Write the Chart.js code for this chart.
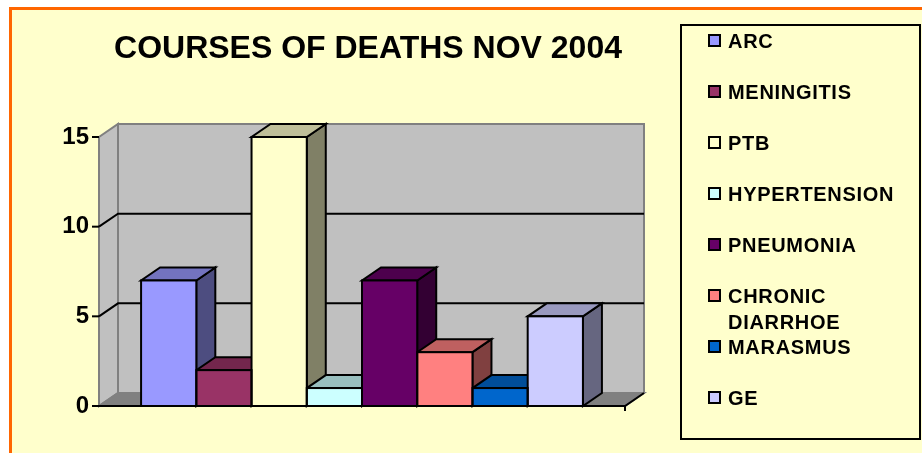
<!DOCTYPE html>
<html>
<head>
<meta charset="utf-8">
<title>Courses of deaths Nov 2004</title>
<script src="https://cdn.jsdelivr.net/npm/chart.js@4.4.1/dist/chart.umd.min.js"></script>
<style>
  html, body { margin: 0; padding: 0; background: #fff; }
  body { width: 922px; height: 453px; position: relative; overflow: hidden;
         font-family: "Liberation Sans", Arial, sans-serif; }
  #frame { position: absolute; left: 9px; top: 7px; width: 940px; height: 470px;
           background: #ffffcc; border-left: 3px solid #ff6600; border-top: 3px solid #ff6600; }
  #chart { position: absolute; left: 0; top: 0; }
  #legend { position: absolute; left: 680px; top: 24px; width: 241px; height: 416px;
            box-sizing: border-box; border: 2px solid #000; }
  .item { position: absolute; left: 26px; width: 205px; }
  .item i { position: absolute; left: 0; top: 6px; width: 13px; height: 13px;
            box-sizing: border-box; border: 2px solid #000; }
  .item span { display: block; margin-left: 20px; width: 185px; line-height: 26px;
               font-size: 20px; font-weight: bold; letter-spacing: 0.7px; color: #000; }
</style>
</head>
<body>
<div id="frame"></div>
<canvas id="chart" width="922" height="453"></canvas>
<div id="legend"></div>
<script>
const causes = ["ARC", "MENINGITIS", "PTB", "HYPERTENSION", "PNEUMONIA", "CHRONIC DIARRHOE", "MARASMUS", "GE"];
const deaths = [7, 2, 15, 1, 7, 3, 1, 5];
const barColors = ["#9999ff", "#993366", "#ffffcc", "#ccffff", "#660066", "#ff8080", "#0066cc", "#ccccff"];
const yTicks = [0, 5, 10, 15];

// depth of the fake 3d
const DX = 19, DY = -13;

function shade(hex, f) {
  const n = parseInt(hex.slice(1), 16);
  const r = Math.round(((n >> 16) & 255) * f);
  const g = Math.round(((n >> 8) & 255) * f);
  const b = Math.round((n & 255) * f);
  return "rgb(" + r + "," + g + "," + b + ")";
}

function poly(ctx, pts, fill, stroke, lw) {
  ctx.beginPath();
  ctx.moveTo(pts[0][0], pts[0][1]);
  for (let k = 1; k < pts.length; k++) ctx.lineTo(pts[k][0], pts[k][1]);
  ctx.closePath();
  if (fill) { ctx.fillStyle = fill; ctx.fill(); }
  if (stroke) { ctx.strokeStyle = stroke; ctx.lineWidth = lw || 2; ctx.stroke(); }
}

function line(ctx, pts, color, lw) {
  ctx.beginPath();
  ctx.moveTo(pts[0][0], pts[0][1]);
  for (let k = 1; k < pts.length; k++) ctx.lineTo(pts[k][0], pts[k][1]);
  ctx.strokeStyle = color; ctx.lineWidth = lw || 2; ctx.stroke();
}

function barBox(chart, i) {
  const p = chart.getDatasetMeta(i).data[0].getProps(["x", "y", "base", "width"], true);
  return { x0: p.x - p.width / 2, x1: p.x + p.width / 2, top: p.y, base: p.base };
}

const box3d = {
  id: "box3d",
  beforeDatasetsDraw(chart) {
    const ctx = chart.ctx, a = chart.chartArea, y = chart.scales.y;
    const L = a.left, R = a.right;
    const T = y.getPixelForValue(yTicks[yTicks.length - 1]), B = y.getPixelForValue(0);
    ctx.save();
    // walls and floor
    poly(ctx, [[L + DX, T + DY], [R + DX, T + DY], [R + DX, B + DY], [L + DX, B + DY]], "#c0c0c0", "#808080");
    poly(ctx, [[L, B], [L, T], [L + DX, T + DY], [L + DX, B + DY]], "#c0c0c0", "#808080");
    poly(ctx, [[L, B], [R, B], [R + DX, B + DY], [L + DX, B + DY]], "#808080", "#808080");
    yTicks.forEach(v => {
      if (v === 0 || v === yTicks[yTicks.length - 1]) return;
      const py = y.getPixelForValue(v);
      line(ctx, [[L, py], [L + DX, py + DY], [R + DX, py + DY]], "#000", 2);
    });
    // sides + tops, left to right so later bars cover earlier ones
    chart.data.datasets.forEach((ds, i) => {
      const b = barBox(chart, i), c = ds.backgroundColor;
      poly(ctx, [[b.x1, b.top], [b.x1 + DX, b.top + DY], [b.x1 + DX, b.base + DY], [b.x1, b.base]], shade(c, 0.5), "#000");
      poly(ctx, [[b.x0, b.top], [b.x1, b.top], [b.x1 + DX, b.top + DY], [b.x0 + DX, b.top + DY]], shade(c, 0.75), "#000");
    });
    ctx.restore();
  },
  afterDatasetsDraw(chart) {
    const ctx = chart.ctx, a = chart.chartArea, y = chart.scales.y;
    const L = a.left, R = a.right, B = y.getPixelForValue(0);
    ctx.save();
    chart.data.datasets.forEach((ds, i) => {
      const b = barBox(chart, i);
      ctx.strokeStyle = "#000"; ctx.lineWidth = 2;
      ctx.strokeRect(b.x0, b.top, b.x1 - b.x0, b.base - b.top);
    });
    line(ctx, [[L, B], [R, B], [R + DX, B + DY]], "#000", 2);
    line(ctx, [[R, B], [R, B + 5]], "#000", 2);
    yTicks.forEach(v => {
      const py = y.getPixelForValue(v);
      line(ctx, [[L - 7, py], [L, py]], "#000", 2);
    });
    ctx.restore();
  }
};

Chart.defaults.font.family = '"Liberation Sans", Arial, sans-serif';

new Chart(document.getElementById("chart"), {
  type: "bar",
  data: {
    labels: [""],
    datasets: causes.map((name, i) => ({
      label: name,
      data: [deaths[i]],
      backgroundColor: barColors[i],
      borderWidth: 0,
      barPercentage: 1,
      categoryPercentage: 0.84
    }))
  },
  options: {
    responsive: false,
    animation: false,
    devicePixelRatio: 1,
    layout: { padding: { left: 0, right: 186, top: 0, bottom: 47 } },
    plugins: {
      legend: { display: false },
      tooltip: { enabled: false },
      title: {
        display: true,
        text: "COURSES OF DEATHS NOV 2004",
        color: "#000",
        font: { size: 32, weight: "bold" },
        padding: { top: 30, bottom: 68.6 }
      }
    },
    scales: {
      x: { display: false },
      y: {
        min: 0,
        max: 15,
        afterFit: s => { s.width = 99; },
        afterBuildTicks: s => { s.ticks = yTicks.map(v => ({ value: v })); },
        grid: { display: false, drawTicks: false },
        border: { display: false },
        ticks: { padding: 10, color: "#000", font: { size: 24, weight: "bold" } }
      },
      side: {
        position: "right",
        afterFit: s => { s.width = 111; },
        grid: { display: false, drawTicks: false },
        border: { display: false },
        ticks: { display: false }
      }
    }
  },
  plugins: [box3d]
});

// legend box, built from the same arrays
const legend = document.getElementById("legend");
causes.forEach((name, i) => {
  const item = document.createElement("div");
  item.className = "item";
  item.style.top = (1.5 + 51 * i) + "px";
  const sw = document.createElement("i");
  sw.style.background = barColors[i];
  const txt = document.createElement("span");
  txt.textContent = name;
  item.appendChild(sw);
  item.appendChild(txt);
  legend.appendChild(item);
});
</script>
</body>
</html>
